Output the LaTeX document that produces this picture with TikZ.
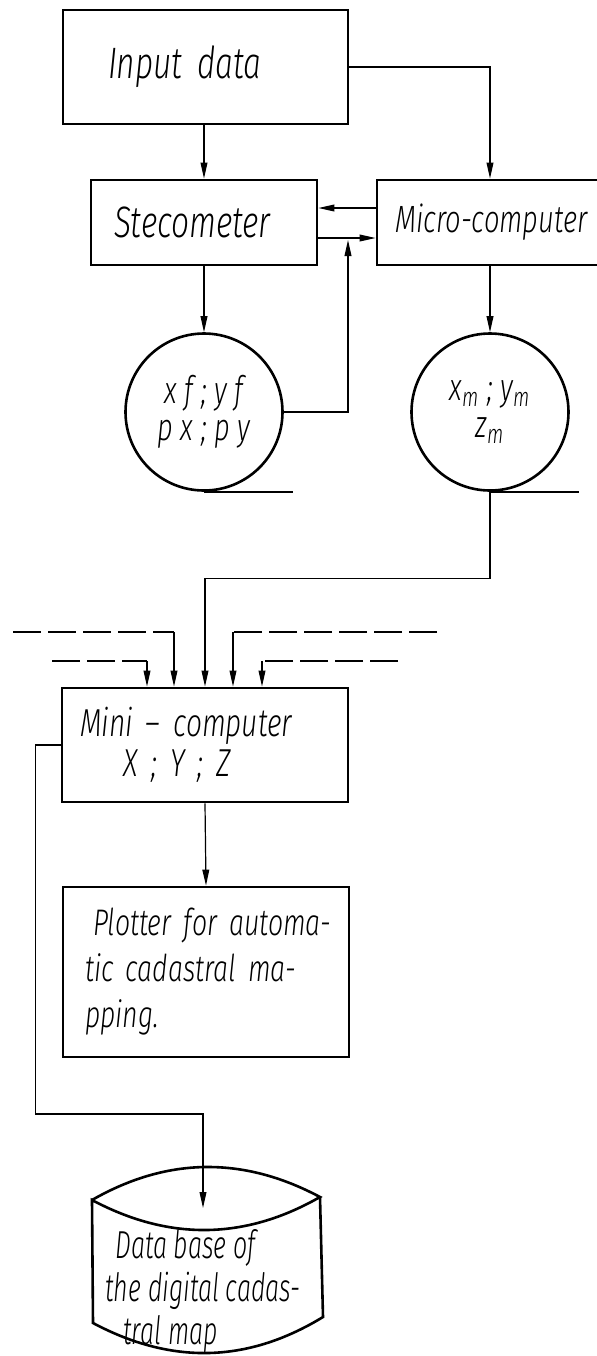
\documentclass[tikz,border=0pt]{standalone}
\usepackage{fontspec}
\newfontfamily\handfont{Fira Sans Light}[FakeStretch=0.72]
\newfontfamily\narrowfont{Fira Sans Light}[FakeStretch=0.64]
\usetikzlibrary{arrows.meta,calc}

\begin{document}
\begin{tikzpicture}[
  x=0.5pt,
  y=-0.5pt,
  box/.style={
    draw,
    line width=1.4pt,
    inner ysep=0pt,
    align=left,
    font=\handfont\itshape\fontsize{18}{20.25}\selectfont
  },
  tape/.style={
    draw,
    circle,
    line width=1.3pt,
    minimum size=78.5pt,
    inner sep=0pt,
    align=center,
    font=\handfont\itshape\fontsize{19}{18.5}\selectfont
  },
  link/.style={
    line width=0.6pt,
    -{Triangle[length=8pt,width=3.4pt]}
  },
  feed/.style={
    line width=0.6pt,
    dash pattern=on 14pt off 3.5pt
  },
]
\useasboundingbox (0,0) rectangle (597,1356);

\node[box, inner xsep=22.5pt, text width=97.5pt, minimum height=57pt,
  font=\handfont\itshape\fontsize{22}{24}\selectfont] (input) at (205.5,67) {Input data};
\node[box, inner xsep=11.5pt, text width=90pt, minimum height=42.5pt,
  font=\handfont\itshape\fontsize{22}{24}\selectfont] (stec) at (204,222.5) {Stecometer};
\node[box, inner xsep=9pt, text width=102pt, minimum height=42.5pt,
  font=\handfont\itshape\fontsize{19}{24}\selectfont] (micro) at (497,222.5) {Micro-computer};

\node[tape] (xf) at (204,412) {x f ; y f\\p x ; p y};
\node[tape] (xm) at (490,412) {x\textsubscript{m} ; y\textsubscript{m}\\z\textsubscript{m}};
\draw[line width=1.3pt] (xf.south) -- ++(89,0);
\draw[line width=1.3pt] (xm.south) -- ++(89,0);

\node[box, inner xsep=9pt, text width=125pt, minimum height=57pt,
  font=\handfont\itshape\fontsize{19.5}{20}\selectfont] (mini) at (205,745)
  {Mini – computer\\\hspace*{22pt}X ; Y ; Z};
\node[box, inner xsep=11pt, text width=121pt, minimum height=85pt,
  font=\handfont\itshape\fontsize{18.5}{23}\selectfont] (plot) at (206,972)
  {\mbox{\hspace*{4pt}Plotter for automa-}\\\mbox{tic cadastral ma-}\\pping.};

\draw[line width=1.3pt] (92,1200) .. controls (168,1156.5) and (244,1156.5) .. (320,1197)
  .. controls (244,1240.5) and (168,1240.5) .. (92,1200) -- (93,1323)
  .. controls (170,1364) and (246,1364) .. (323,1317) -- (320,1197);
\node[anchor=west, inner sep=0pt, align=left,
  font=\narrowfont\itshape\fontsize{19.5}{21.5}\selectfont] (db) at (105,1291)
  {\hspace*{5pt}Data base of\\the digital cadas-\\\hspace*{9pt}tral map};
\coordinate (dbin) at (203,1208);
\coordinate (join) at (348,240);

\draw[link] (input.south -| stec.north) -- (stec.north);
\draw[link] (input.east) -| (xm.north |- micro.north);
\draw[link] ($(micro.west)+(0,-14.5)$) -- ($(stec.east)+(0,-14.5)$);
\draw[link] ($(stec.east)+(0,15.5)$) -- ($(micro.west)+(0,15.5)$);
\draw[link] (xf.east) -| (join);
\draw[link] (stec.south) -- (xf.north);
\draw[link] (micro.south -| xm.north) -- (xm.north);
\draw[link] (xm.south) -- ++(0,87) -| (mini.north);

\foreach \dx/\yy/\xs in {-58/661/52, -31/632/13, 28/632/437, 57/661/398}{
  \coordinate (t) at ($(mini.north)+(\dx,0)$);
  \draw[feed] (\xs,\yy) -- (t |- 0,\yy);
  \draw[link] (t |- 0,\yy) -- (t);
}

\draw[link] (mini.south) -- (plot.north);
\draw[link] (mini.west) -- ++(-25,0) |- ($(dbin)+(0,-94)$) -- (dbin);
\end{tikzpicture}
\end{document}
